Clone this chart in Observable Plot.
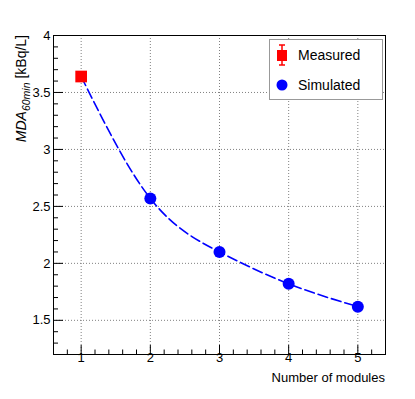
<!DOCTYPE html>
<html><head><meta charset="utf-8">
<script src="https://cdn.jsdelivr.net/npm/d3@7"></script>
<script src="https://cdn.jsdelivr.net/npm/@observablehq/plot@0.6"></script>
<style>body{margin:0;background:#fff} svg{display:block}</style>
</head><body><div id="chart"></div><script>
// ---- data ----
const measuredX = [1];
const measuredY = [3.64];
const simulatedX = [2, 3, 4, 5];
const simulatedY = [2.57, 2.10, 1.82, 1.62];
const xMajor = [1, 2, 3, 4, 5];
const xMinor = [0.8, 1.2, 1.4, 1.6, 1.8, 2.2, 2.4, 2.6, 2.8, 3.2, 3.4, 3.6, 3.8, 4.2, 4.4, 4.6, 4.8, 5.2];
const yMajor = [1.5, 2, 2.5, 3, 3.5, 4];
const yMinor = [1.2, 1.3, 1.4, 1.6, 1.7, 1.8, 1.9, 2.1, 2.2, 2.3, 2.4, 2.6, 2.7, 2.8, 2.9, 3.1, 3.2, 3.3, 3.4, 3.6, 3.7, 3.8, 3.9];
const xLabel = "Number of modules";
const legendLabels = ["Measured", "Simulated"];

const measured = measuredX.map((x, i) => ({x, y: measuredY[i]}));
const simulated = simulatedX.map((x, i) => ({x, y: simulatedY[i]}));
const curveData = measured.concat(simulated);

const W = 415, H = 399, mt = 35, mr = 30, mb = 45, ml = 53;
const pw = W - ml - mr, ph = H - mt - mb;

const plot = Plot.plot({
  width: W, height: H,
  marginTop: mt, marginRight: mr, marginBottom: mb, marginLeft: ml,
  style: {fontFamily: "Liberation Sans, Arial, sans-serif", fontSize: "13px", background: "#fff", color: "#000"},
  x: {domain: [0.6, 5.4]},
  y: {domain: [1.2, 4]},
  marks: [
    Plot.gridX(xMajor, {stroke: "#808080", strokeOpacity: 1, strokeDasharray: "1,2"}),
    Plot.gridY(yMajor, {stroke: "#808080", strokeOpacity: 1, strokeDasharray: "1,2"}),
    Plot.line(curveData, {x: "x", y: "y", curve: "natural", stroke: "#0000ff", strokeWidth: 1.6, strokeDasharray: "10,4"}),
    Plot.dot(simulated, {x: "x", y: "y", r: 6, fill: "#0000ff", symbol: "circle"}),
    Plot.dot(measured, {x: "x", y: "y", r: 6.6, fill: "#ff0000", symbol: "square"}),
    Plot.tickX(xMinor, {x: d => d, insetTop: ph - 4.5, stroke: "#000"}),
    Plot.tickX(xMajor, {x: d => d, insetTop: ph - 9, stroke: "#000"}),
    Plot.tickY(yMinor, {y: d => d, insetRight: pw - 5, stroke: "#000"}),
    Plot.tickY(yMajor, {y: d => d, insetRight: pw - 10, stroke: "#000"}),
    Plot.axisX({ticks: xMajor, tickSize: 0, tickPadding: 4, dy: -6, label: null, tickFormat: d => String(d)}),
    Plot.axisY({ticks: yMajor, tickSize: 0, tickPadding: 3, label: null, tickFormat: d => String(d)}),
    Plot.frame({stroke: "#000"})
  ]
});
document.getElementById("chart").appendChild(plot);

const s = d3.select(plot);
const ff = "Liberation Sans, Arial, sans-serif";
s.append("text").attr("x", 385).attr("y", 382).attr("text-anchor", "end")
  .attr("font-family", ff).attr("font-size", 13).attr("fill", "#000").text(xLabel);

const yl = s.append("text").attr("transform", "translate(26,35) rotate(-90)")
  .attr("text-anchor", "end").attr("font-family", ff).attr("font-size", 14).attr("fill", "#000");
yl.append("tspan").attr("font-style", "italic").text("MDA");
yl.append("tspan").attr("font-style", "italic").attr("font-size", 10.5).attr("dy", 3.5).text("60min");
yl.append("tspan").attr("dy", -3.5).text(" [kBq/L]");

// legend
const lg = s.append("g");
lg.append("rect").attr("x", 269.5).attr("y", 39.5).attr("width", 113).attr("height", 60)
  .attr("fill", "#fff").attr("stroke", "#999");
lg.append("line").attr("x1", 282).attr("x2", 282).attr("y1", 45).attr("y2", 65).attr("stroke", "#f00").attr("stroke-width", 1.5);
lg.append("line").attr("x1", 279).attr("x2", 285).attr("y1", 45).attr("y2", 45).attr("stroke", "#f00").attr("stroke-width", 1.5);
lg.append("line").attr("x1", 279).attr("x2", 285).attr("y1", 65).attr("y2", 65).attr("stroke", "#f00").attr("stroke-width", 1.5);
lg.append("rect").attr("x", 277).attr("y", 50).attr("width", 10).attr("height", 11).attr("fill", "#f00");
lg.append("circle").attr("cx", 282).attr("cy", 85).attr("r", 5.5).attr("fill", "#00f");
lg.append("text").attr("x", 298).attr("y", 55).attr("dy", "0.35em").attr("text-anchor", "start").attr("font-family", ff).attr("font-size", 14).attr("fill", "#000").text(legendLabels[0]);
lg.append("text").attr("x", 298).attr("y", 85).attr("dy", "0.35em").attr("text-anchor", "start").attr("font-family", ff).attr("font-size", 14).attr("fill", "#000").text(legendLabels[1]);
</script></body></html>
